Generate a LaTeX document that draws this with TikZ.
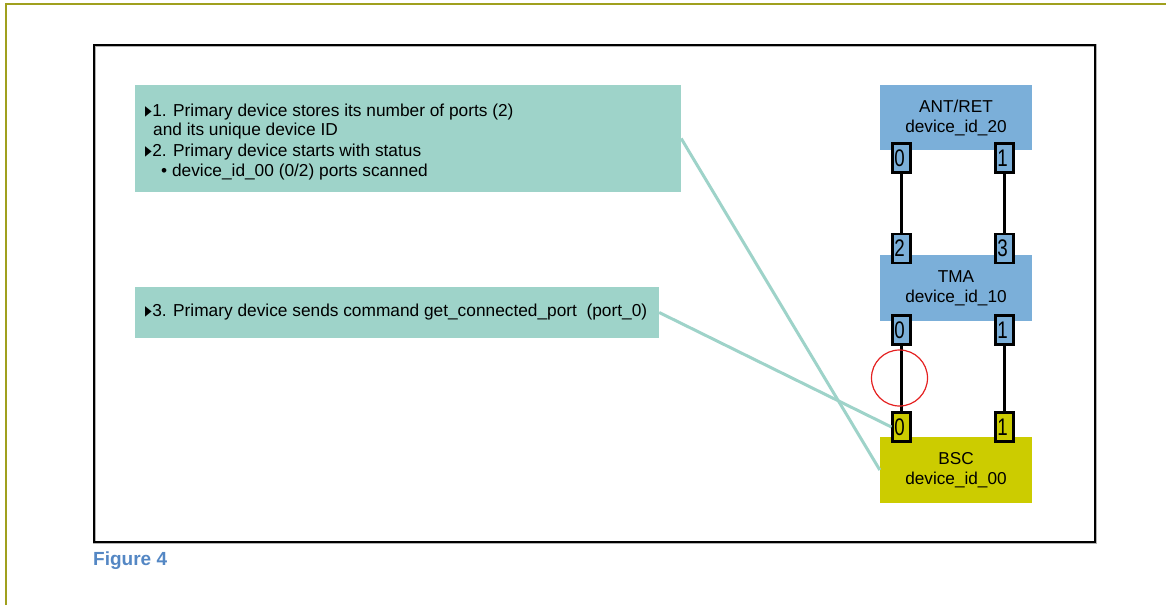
\documentclass[tikz,border=0pt]{standalone}
\usepackage{fontspec}
\setmainfont{Liberation Sans}
\newfontfamily\symfont{DejaVu Sans}
\definecolor{noteteal}{RGB}{158,211,201}
\definecolor{devblue}{RGB}{123,175,217}
\definecolor{bscolive}{RGB}{204,204,0}
\definecolor{frameolive}{RGB}{160,160,30}
\definecolor{captionblue}{RGB}{84,135,196}
\definecolor{ringred}{RGB}{228,32,32}
\newcommand\bullettri{{\symfont\fontsize{12}{12}\selectfont\raisebox{1pt}{\scalebox{0.72}[1.15]{▶}}}\hspace{0.5pt}}
\newcommand\portnum[1]{\hspace*{-4pt}\scalebox{0.78}[1]{#1}}
\tikzset{
  note/.style={rectangle, fill=noteteal, inner sep=0pt},
  notetext/.style={anchor=base west, inner sep=0pt, font=\fontsize{17.3}{20}\selectfont},
  device/.style={rectangle, inner sep=0pt, minimum width=152pt, align=center,
                 font=\fontsize{17.2}{20}\selectfont},
  port/.style={rectangle, draw=black, line width=2.2pt, minimum width=18pt,
               minimum height=29pt, inner sep=0pt, font=\fontsize{24}{24}\selectfont},
  link/.style={draw=black, line width=2.8pt},
  callout/.style={draw=noteteal, line width=3pt},
}
\begin{document}
\begin{tikzpicture}[x=1pt,y=-1pt]
\useasboundingbox (0,0) rectangle (1166,605);
% page edge lines
\draw[frameolive, line width=2pt] (6,605) -- (6,4) -- (1166,4);
% figure frame
\draw[gray!60, line width=3pt] (94,45) rectangle (1095,542);
\draw[black, line width=1.5pt] (94,45) rectangle (1095,542);

% explanatory notes
\node[note, minimum width=546pt, minimum height=107pt] (box1) at (408,138.5) {};
\node[notetext] (t1a) at (145,116) {\bullettri 1. Primary device stores its number of ports (2)};
\node[notetext] (t1b) at (153,135) {and its unique device ID};
\node[notetext] (t1c) at (145,156) {\bullettri 2. Primary device starts with status};
\node[notetext] (t1d) at (161,176) {• device\_id\_00 (0/2) ports scanned};

\node[note, minimum width=524pt, minimum height=51pt] (box2) at (397,312.5) {};
\node[notetext] (t2a) at (145,316) {\bullettri 3. Primary device sends command get\_connected\_port\ \ (port\_0)};

% devices
\node[device, fill=devblue, minimum height=65pt] (ant) at (956,117.5) {ANT/RET\\device\_id\_20};
\node[device, fill=devblue, minimum height=66pt] (tma) at (956,288) {TMA\\device\_id\_10};
\node[device, fill=bscolive, minimum height=66pt] (bsc) at (956,470) {BSC\\device\_id\_00};

% ports
\node[port, fill=devblue] (a0) at (901.5,158) {\portnum{0}};
\node[port, fill=devblue] (a1) at (1004.5,158) {\portnum{1}};
\node[port, fill=devblue] (m2) at (901.5,248.5) {\portnum{2}};
\node[port, fill=devblue] (m3) at (1004.5,248.5) {\portnum{3}};
\node[port, fill=devblue] (m0) at (901.5,330) {\portnum{0}};
\node[port, fill=devblue] (m1) at (1004.5,330) {\portnum{1}};
\node[port, fill=bscolive] (b0) at (901.5,427) {\portnum{0}};
\node[port, fill=bscolive] (b1) at (1004.5,427) {\portnum{1}};

% cables
\draw[link] (a0.south) -- (m2.north);
\draw[link] (a1.south) -- (m3.north);
\draw[link] (m0.south) -- (b0.north);
\draw[link] (m1.south) -- (b1.north);

% highlighted cable
\node[circle, draw=ringred, line width=1.2pt, minimum size=56pt, inner sep=0pt] (ring) at (899.5,378) {};

% callout lines
\draw[callout] (box1.east) -- (bsc.west);
\draw[callout] (box2.east) -- (b0.west);

% caption
\node[anchor=base west, inner sep=0pt, text=captionblue, font=\bfseries\fontsize{19}{19}\selectfont] (cap) at (93,565) {Figure 4};
\end{tikzpicture}
\end{document}
